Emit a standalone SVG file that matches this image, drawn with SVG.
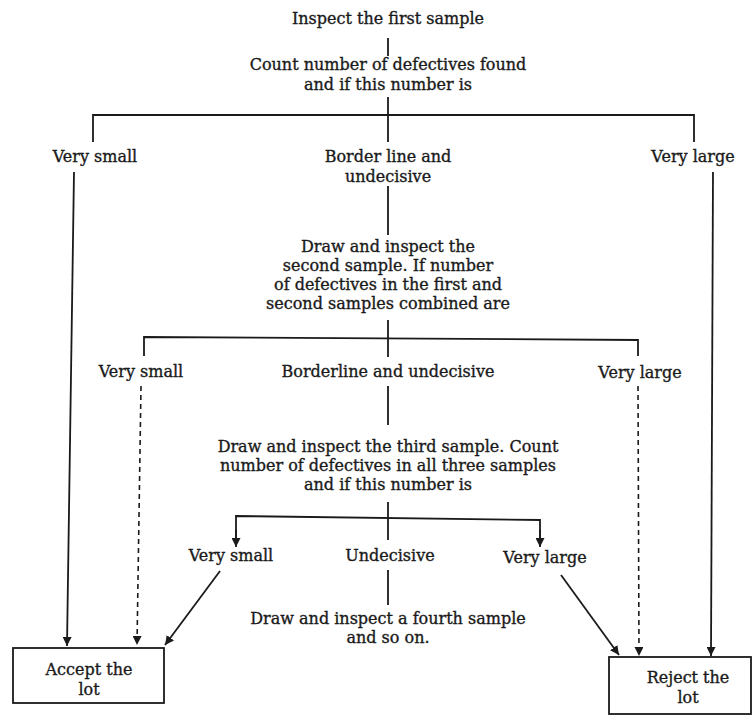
<svg xmlns="http://www.w3.org/2000/svg" width="752" height="717" viewBox="0 0 752 717">
<style>
text{font-family:"DejaVu Serif","Liberation Serif",serif;font-size:16px;fill:#1a1a1a;stroke:#1a1a1a;stroke-width:0.35;text-anchor:middle}
.ln{stroke:#1a1a1a;stroke-width:1.8;fill:none}
.ds{stroke:#1a1a1a;stroke-width:1.6;fill:none;stroke-dasharray:5 4}
.bx{stroke:#1a1a1a;stroke-width:1.8;fill:#fff}
</style>
<defs>
<marker id="ah" viewBox="0 0 10 10" refX="10" refY="5" markerWidth="9" markerHeight="9" markerUnits="userSpaceOnUse" orient="auto">
<path d="M0,0 L10,5 L0,10 z" fill="#1a1a1a"/>
</marker>
</defs>
<rect width="752" height="717" fill="#fff"/>
<g id="connectors">
<line class="ln" x1="388" y1="38" x2="388" y2="56"/>
<line class="ln" x1="388" y1="97" x2="388" y2="142"/>
<polyline class="ln" points="93,142 93,115 694,115 694,142"/>
<line class="ln" x1="74" y1="172" x2="67" y2="646" marker-end="url(#ah)"/>
<line class="ln" x1="713" y1="172" x2="711" y2="656" marker-end="url(#ah)"/>
<line class="ln" x1="388" y1="186" x2="388" y2="235"/>
<line class="ln" x1="388" y1="320" x2="388" y2="357"/>
<polyline class="ln" points="144,356 144,337 638,340 638,356"/>
<line class="ds" x1="141" y1="386" x2="137" y2="645" marker-end="url(#ah)"/>
<line class="ds" x1="638" y1="386" x2="639" y2="656" marker-end="url(#ah)"/>
<line class="ln" x1="388" y1="386" x2="388" y2="425"/>
<line class="ln" x1="388" y1="502" x2="388" y2="540"/>
<polyline class="ln" points="236,538 236,516 540,520 540,538" />
<line class="ln" x1="236" y1="530" x2="236" y2="547" marker-end="url(#ah)"/>
<line class="ln" x1="540" y1="530" x2="540" y2="547" marker-end="url(#ah)"/>
<line class="ln" x1="388" y1="570" x2="388" y2="605"/>
<line class="ln" x1="220" y1="571" x2="165" y2="645" marker-end="url(#ah)"/>
<line class="ln" x1="561" y1="575" x2="619" y2="655" marker-end="url(#ah)"/>
</g>
<g id="n-first"><text x="388" y="24">Inspect the first sample</text></g>
<g id="n-count1"><text x="388" y="70">Count number of defectives found</text><text x="388" y="90">and if this number is</text></g>
<g id="n-vs1"><text x="95" y="162">Very small</text></g>
<g id="n-bl1"><text x="388" y="162">Border line and</text><text x="388" y="182">undecisive</text></g>
<g id="n-vl1"><text x="693" y="162">Very large</text></g>
<g id="n-second"><text x="388" y="252">Draw and inspect the</text><text x="388" y="271">second sample. If number</text><text x="388" y="290">of defectives in the first and</text><text x="388" y="309">second samples combined are</text></g>
<g id="n-vs2"><text x="141" y="377">Very small</text></g>
<g id="n-bl2"><text x="388" y="377">Borderline and undecisive</text></g>
<g id="n-vl2"><text x="640" y="378">Very large</text></g>
<g id="n-third"><text x="388" y="452">Draw and inspect the third sample. Count</text><text x="388" y="471">number of defectives in all three samples</text><text x="388" y="490">and if this number is</text></g>
<g id="n-vs3"><text x="231" y="561">Very small</text></g>
<g id="n-und3"><text x="390" y="561">Undecisive</text></g>
<g id="n-vl3"><text x="545" y="563">Very large</text></g>
<g id="n-fourth"><text x="388" y="624">Draw and inspect a fourth sample</text><text x="388" y="643">and so on.</text></g>
<g id="n-accept"><rect class="bx" x="13" y="648" width="151" height="55"/><text x="89" y="675">Accept the</text><text x="89" y="695">lot</text></g>
<g id="n-reject"><rect class="bx" x="609" y="657" width="142" height="57"/><text x="688" y="683">Reject the</text><text x="688" y="703">lot</text></g>
</svg>
